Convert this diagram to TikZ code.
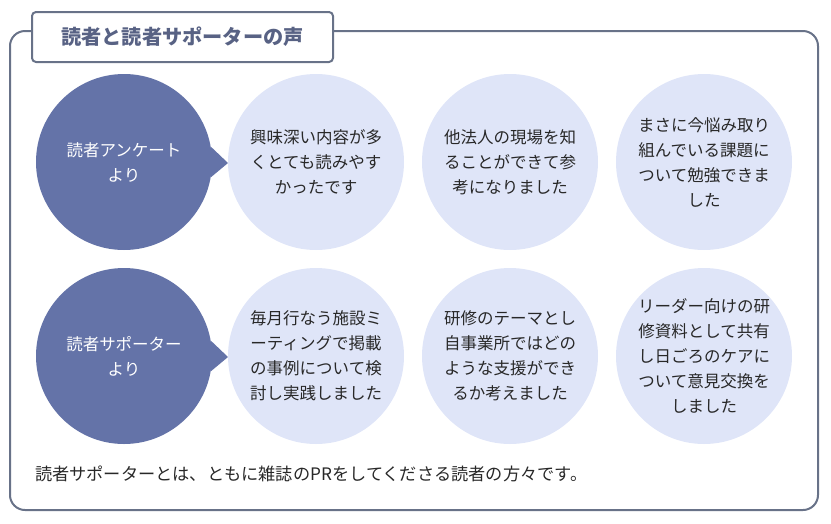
\documentclass[tikz,border=0pt]{standalone}
\usepackage{fontspec}
\setmainfont{Noto Sans CJK JP}
\definecolor{frame}{RGB}{104,114,136}
\definecolor{titletext}{RGB}{88,98,132}
\definecolor{darkc}{RGB}{100,115,168}
\definecolor{lightc}{RGB}{223,229,248}
\definecolor{bodytext}{RGB}{40,40,40}
\begin{document}
\begin{tikzpicture}[x=1pt,y=-1pt,
  titlebox/.style={draw=frame, line width=2pt, fill=white, rounded corners=4pt,
    minimum width=301pt, minimum height=50pt, inner sep=0pt,
    text=titletext, font=\fontsize{20.2}{24}\selectfont\bfseries},
  darkcircle/.style={circle, fill=darkc, minimum size=176pt, inner sep=0pt,
    text=white, align=center, font=\fontsize{16.5}{25}\selectfont},
  lightcircle/.style={circle, fill=lightc, minimum size=176pt, inner sep=0pt,
    text=bodytext, align=center, font=\fontsize{16.5}{25}\selectfont},
  pointer/.style={fill=darkc},
  note/.style={anchor=west, text=bodytext, inner sep=0pt, font=\fontsize{17.2}{20}\selectfont}
]
\useasboundingbox (0,0) rectangle (831,523);
\draw[frame, line width=2pt, rounded corners=15pt] (10,31) rectangle (818,510);
\node[titlebox] (title) at (182.5,37) {読者と読者サポーターの声};

% row 1
\node[darkcircle] (d1) at (124,162) {読者アンケート\\より};
\coordinate (t1) at (228,163);
\fill[pointer] (d1.10) -- (t1) -- (d1.-10) -- cycle;
\node[lightcircle] (a1) at (316,162) {興味深い内容が多\\くとても読みやす\\かったです};
\node[lightcircle] (a2) at (510,162) {他法人の現場を知\\ることができて参\\考になりました};
\node[lightcircle] (a3) at (704,162) {まさに今悩み取り\\組んでいる課題に\\ついて勉強できま\\した};

% row 2
\node[darkcircle] (d2) at (124,356) {読者サポーター\\より};
\coordinate (t2) at (228,357);
\fill[pointer] (d2.10) -- (t2) -- (d2.-10) -- cycle;
\node[lightcircle] (b1) at (316,356) {毎月行なう施設ミ\\ーティングで掲載\\の事例について検\\討し実践しました};
\node[lightcircle] (b2) at (510,356) {研修のテーマとし\\自事業所ではどの\\ような支援ができ\\るか考えました};
\node[lightcircle] (b3) at (704,356) {リーダー向けの研\\修資料として共有\\し日ごろのケアに\\ついて意見交換を\\しました};

\node[note] (footer) at (35,474) {読者サポーターとは、ともに雑誌のPRをしてくださる読者の方々です。};
\end{tikzpicture}
\end{document}
